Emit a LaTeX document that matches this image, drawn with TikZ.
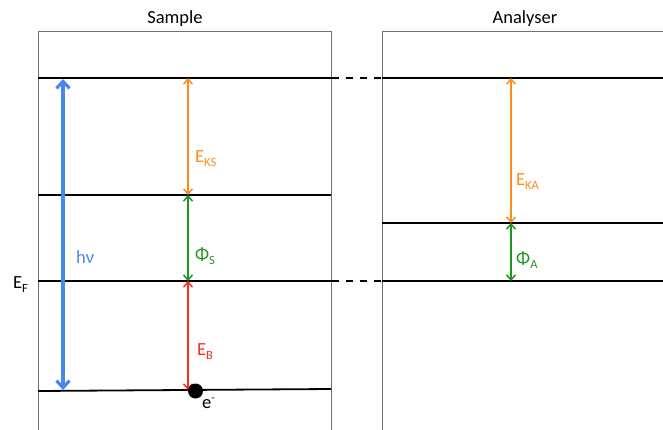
\documentclass[tikz,border=0pt]{standalone}
\usepackage{fontspec}
\setmainfont{Carlito}
\usetikzlibrary{arrows.meta}
\definecolor{cblue}{HTML}{4A86F0}
\definecolor{corange}{HTML}{FF8C1A}
\definecolor{cgreen}{HTML}{1E961E}
\definecolor{cred}{HTML}{FF2A1A}
\definecolor{cbox}{HTML}{707070}
\tikzset{
  boxline/.style={draw=cbox, line width=1pt},
  level/.style={draw=black, line width=1.8pt},
  dashlevel/.style={draw=black, line width=1.8pt, dash pattern=on 7pt off 7pt},
  dimarrow/.style={line width=1.5pt, {Straight Barb[length=5pt,width=9pt]}-{Straight Barb[length=5pt,width=9pt]}},
  bigarrow/.style={line width=3.2pt, {Straight Barb[length=7pt,width=13pt]}-{Straight Barb[length=7pt,width=13pt]}},
  lbl/.style={font=\fontsize{18.5}{20}\selectfont, inner sep=0pt, anchor=base west},
  title/.style={font=\fontsize{18.5}{20}\selectfont, inner sep=0pt, anchor=base},
}
\newcommand{\sbx}[1]{\raisebox{-4pt}{\fontsize{12.5}{13}\selectfont #1}}
\begin{document}
\begin{tikzpicture}[x=1pt,y=-1pt]
\useasboundingbox (0,0) rectangle (663,430);
% boxes
\draw[boxline] (38,430) -- (38,32) -- (331,32) -- (331,430);
\draw[boxline] (382,430) -- (382,32) -- (663,32);
% titles
\node[title] (ts) at (175,24) {Sample};
\node[title] (ta) at (525,24) {Analyser};
% coordinates
\coordinate (s1l) at (38,78);   \coordinate (s1r) at (331,78);
\coordinate (s2l) at (38,195);  \coordinate (s2r) at (331,195);
\coordinate (s3l) at (38,281);  \coordinate (s3r) at (331,281);
\coordinate (s4l) at (38,391);  \coordinate (s4r) at (331,389);
\coordinate (a1l) at (382,78);  \coordinate (a1r) at (663,78);
\coordinate (a2l) at (382,223); \coordinate (a2r) at (663,223);
\coordinate (a3l) at (382,281); \coordinate (a3r) at (663,281);
% levels
\draw[level] (s1l) -- (s1r) -- ++(8,0);
\draw[level] (s2l) -- (s2r);
\draw[level] (s3l) -- (s3r) -- ++(8,0);
\draw[level] (s4l) -- (s4r);
\draw[level] (a1l) -- (a1r);
\draw[level] (a2l) -- (a2r);
\draw[level] (a3l) -- (a3r);
\draw[dashlevel] (346,78) -- (382,78);
\draw[dashlevel] (346,281) -- (382,281);
% arrow end coordinates
\coordinate (hvT) at (63,79); \coordinate (hvB) at (63,390);
\coordinate (k1) at (188,78); \coordinate (k2) at (188,195);
\coordinate (k3) at (188,281); \coordinate (k4) at (188,390);
\coordinate (q1) at (511,78); \coordinate (q2) at (511,223); \coordinate (q3) at (511,281);
% arrows
\draw[bigarrow, cblue] (hvT) -- (hvB);
\draw[dimarrow, corange] (k1) -- (k2);
\draw[dimarrow, cgreen] (k2) -- (k3);
\draw[dimarrow, cred] (k3) -- (k4);
\draw[dimarrow, corange] (q1) -- (q2);
\draw[dimarrow, cgreen] (q2) -- (q3);
% electron
\fill[black] (195.5,391) circle (7.5);
\node[lbl] (el) at (202,408) {e\raisebox{7pt}{\fontsize{11}{12}\selectfont -}};
% labels
\node[lbl, text=cblue] (hv) at (76,263) {hν};
\node[lbl, text=corange] (eks) at (195,163) {E\sbx{KS}};
\node[lbl, text=cgreen] (phis) at (195,260) {Φ\sbx{S}};
\node[lbl, text=cred] (eb) at (197,355) {E\sbx{B}};
\node[lbl, text=corange] (eka) at (516,186) {E\sbx{KA}};
\node[lbl, text=cgreen] (phia) at (516,264) {Φ\sbx{A}};
\node[lbl] (ef) at (13,288) {E\sbx{F}};
\end{tikzpicture}
\end{document}
